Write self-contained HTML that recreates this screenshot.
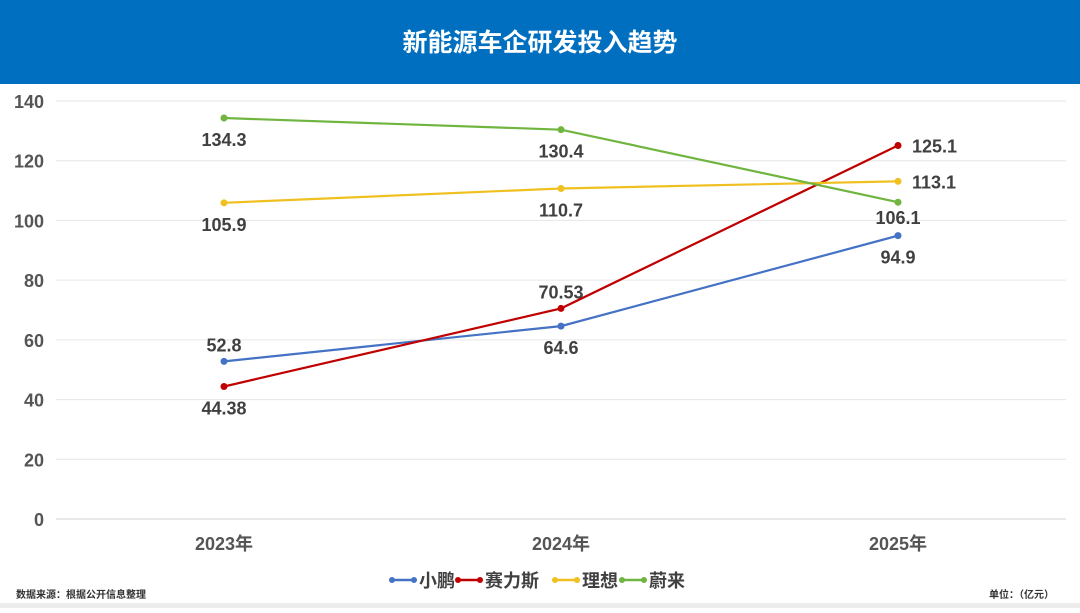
<!DOCTYPE html>
<html><head><meta charset="utf-8"><style>
body{margin:0;width:1080px;height:608px;overflow:hidden;background:#fff;font-family:"Liberation Sans","Noto Sans CJK SC",sans-serif}
</style></head><body>
<svg id="c" width="1080" height="608" xmlns="http://www.w3.org/2000/svg">
<rect x="0" y="0" width="1080" height="84" fill="#006fc0"/>
<text x="540" y="51" text-anchor="middle" fill="#fff" font-size="25" font-weight="bold" font-family="Liberation Sans,Noto Sans CJK SC,sans-serif">新能源车企研发投入趋势</text>
<rect x="0" y="603" width="1080" height="5" fill="#ececec"/>
<text x="16" y="598" font-size="10" font-weight="bold" fill="#333" font-family="Liberation Sans,Noto Sans CJK SC,sans-serif">数据来源：根据公开信息整理</text>
<text x="1054" y="598" text-anchor="end" font-size="10" font-weight="bold" fill="#333" font-family="Liberation Sans,Noto Sans CJK SC,sans-serif">单位：（亿元）</text>
</svg>
<script>
const categories=["2023年","2024年","2025年"];
const seriesNames=["小鹏","赛力斯","理想","蔚来"];
const xpeng=[52.8,64.6,94.9];
const seres=[44.38,70.53,125.1];
const lixiang=[105.9,110.7,113.1];
const nio=[134.3,130.4,106.1];
const valueLabels=[["52.8","64.6","94.9"],["44.38","70.53","125.1"],["105.9","110.7","113.1"],["134.3","130.4","106.1"]];
const yTicks=[0,20,40,60,80,100,120,140];
const colors=["#4472c4","#c00000","#f0c020","#70b540"];
const labelPos=[["a","b","b"],["b","a","r"],["b","b","r"],["b","b","b"]];
const svg=document.getElementById('c');const NS="http://www.w3.org/2000/svg";
const y=v=>519-(v/140)*418;
const x=i=>224+i*337;
function el(t,a){const e=document.createElementNS(NS,t);for(const k in a)e.setAttribute(k,a[k]);svg.appendChild(e);return e;}
const F="Liberation Sans,Noto Sans CJK SC,sans-serif";
yTicks.forEach(t=>{
 const l=el('line',{x1:56,x2:1066,y1:y(t),y2:y(t),stroke:t===0?'#d0d0d0':'#e6e6e6','stroke-width':1});
 
 
 const tx=el('text',{x:44,y:y(t)+7,'text-anchor':'end','font-size':18,'font-weight':'bold',fill:'#555','font-family':F});tx.textContent=t;
 
 
});
categories.forEach((c,i)=>{
 const tx=el('text',{x:x(i),y:550,'text-anchor':'middle','font-size':18,'font-weight':'bold',fill:'#555','font-family':F});tx.textContent=c;
 
 
});
[xpeng,seres,lixiang,nio].forEach((s,si)=>{
 const p=el('polyline',{points:s.map((v,i)=>x(i)+','+y(v)).join(' '),fill:'none',stroke:colors[si],'stroke-width':2.2});
 
 
 s.forEach((v,i)=>{
  const d=el('circle',{cx:x(i),cy:y(v),r:3.5,fill:colors[si]});
  
  
  const pos=labelPos[si][i];let lx=x(i),ly=y(v),an='middle';
  if(pos==='a')ly-=10;else if(pos==='b')ly+=28;else{lx+=14;ly+=7;an='start';}
  if(si===3&&i===2)ly-=6;
  const t=el('text',{x:lx,y:ly,'text-anchor':an,'font-size':18,'font-weight':'bold',fill:'#404040','font-family':F});t.textContent=valueLabels[si][i];
  
  
 });
});
const lx0=[390,456,553,620];
seriesNames.forEach((n,i)=>{
 const lx=lx0[i];
 const l=el('line',{x1:lx,x2:lx+26,y1:580,y2:580,stroke:colors[i],'stroke-width':2.5});
 
 
 el('circle',{cx:lx+2,cy:580,r:3,fill:colors[i]});
 el('circle',{cx:lx+24,cy:580,r:3,fill:colors[i]});
 const t=el('text',{x:lx+29,y:587,'font-size':18,'font-weight':'bold',fill:'#404040','font-family':F});t.textContent=n;
 
 
});
</script>
</body></html>
